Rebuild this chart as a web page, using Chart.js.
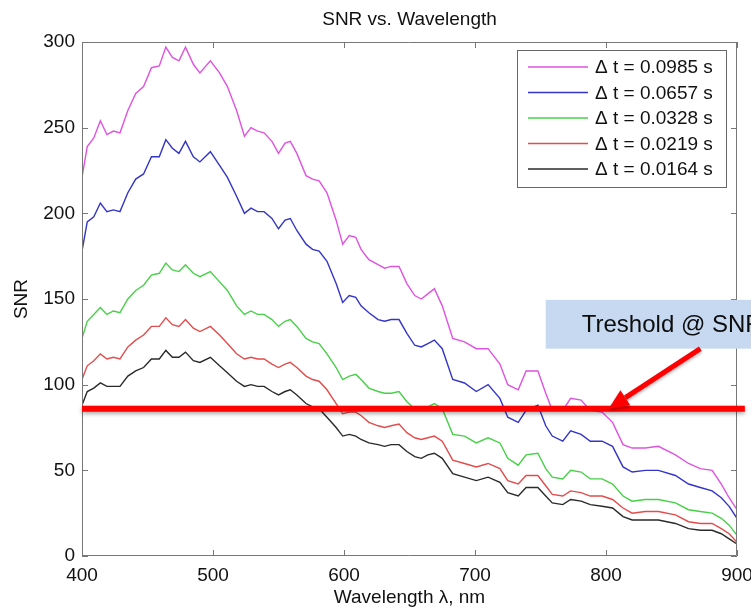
<!DOCTYPE html>
<html>
<head>
<meta charset="utf-8">
<script src="https://cdn.jsdelivr.net/npm/chart.js@4.4.1/dist/chart.umd.min.js"></script>
<style>
  html, body { margin: 0; padding: 0; background: #fff; overflow: hidden; }
  #wrap { width: 810px; height: 611px; position: relative; }
</style>
</head>
<body>
<div id="wrap"><canvas id="snr" width="810" height="611"></canvas></div>
<script>
// wavelength grid, nm
const wavelengths = [400,404,409,414,419,424,429,435,441,447,
  453,459,464,469,474,479,485,490,498,505,
  511,518,524,529,534,539,545,550,555,559,
  564,571,576,581,587,594,599,604,609,613,
  619,626,631,636,642,648,654,659,664,669,
  675,683,692,701,710,719,725,733,739,748,
  754,759,767,773,781,788,797,805,813,820,
  830,840,853,863,872,881,888,894,900];

// SNR for each exposure time
const snr0985 = [221,239,244,254,246,248,247,260,270,274,
  285,286,297,291,289,297,287,282,289,282,
  274,260,245,250,248,247,242,235,241,242,
  235,222,220,219,212,196,182,187,186,179,
  173,170,168,169,169,159,152,150,153,156,
  146,127,125,121,121,112,100,97,108,108,
  95,85,85,92,91,85,84,78,65,63,
  63,64,59,54,51,50,42,34,27];
const snr0657 = [178,195,198,206,201,202,201,212,220,223,
  233,233,243,238,235,242,233,230,236,228,
  221,210,200,203,201,201,197,191,196,197,
  190,182,179,178,172,159,148,152,151,146,
  142,138,137,138,138,130,123,122,124,126,
  121,103,101,96,100,92,81,78,85,88,
  76,70,67,73,71,67,67,64,52,49,
  50,50,47,42,40,38,34,29,22];
const snr0328 = [127,137,141,145,141,143,142,150,155,158,
  164,165,171,167,166,170,165,163,166,160,
  155,146,141,143,141,141,138,134,137,138,
  134,127,125,124,118,110,103,105,106,103,
  98,96,95,95,96,90,86,85,87,89,
  86,71,70,66,69,66,57,53,59,60,
  51,46,45,50,49,45,45,42,35,32,
  33,33,31,27,26,25,22,18,12];
const snr0219 = [103,111,114,118,115,116,115,122,126,129,
  134,134,139,135,134,138,133,131,134,129,
  124,118,115,116,115,115,112,110,112,113,
  110,105,103,102,97,89,83,84,84,82,
  78,76,75,76,77,72,69,68,69,70,
  67,56,54,52,54,51,44,42,47,47,
  41,36,35,38,37,35,35,33,28,25,
  26,26,24,20,19,19,16,13,8];
const snr0164 = [88,96,98,101,99,99,99,105,108,110,
  115,115,120,116,116,119,114,113,116,111,
  107,102,99,100,99,99,96,94,96,97,
  94,89,87,86,81,75,70,71,70,68,
  66,65,64,65,65,61,58,57,59,60,
  57,48,46,44,46,43,37,35,40,40,
  35,31,30,33,32,30,29,28,23,21,
  21,21,19,16,15,15,13,10,7];

const seriesLabels = ['\u0394 t = 0.0985 s', '\u0394 t = 0.0657 s', '\u0394 t = 0.0328 s', '\u0394 t = 0.0219 s', '\u0394 t = 0.0164 s'];
const seriesColors = ['#e052e0', '#3434c8', '#48d048', '#e24c4c', '#2a2a2a'];
const seriesValues = [snr0985, snr0657, snr0328, snr0219, snr0164];

const xTicks = [400, 500, 600, 700, 800, 900];
const yTicks = [0, 50, 100, 150, 200, 250, 300];

const THRESHOLD = 86;
const thresholdText = 'Treshold @ SNR = 85';

const FONT = "'Liberation Sans', Arial, sans-serif";
const AXIS = '#777';

const overlay = {
  id: 'overlay',
  afterDraw(chart) {
    const { ctx, chartArea: a, scales: { x, y } } = chart;
    ctx.save();

    // axes box + inward ticks
    ctx.strokeStyle = AXIS;
    ctx.lineWidth = 1;
    ctx.beginPath();
    ctx.rect(a.left + 0.5, a.top + 0.5, a.right - a.left - 1, a.bottom - a.top - 1);
    xTicks.forEach(v => {
      const px = Math.round(x.getPixelForValue(v)) + 0.5;
      ctx.moveTo(px, a.bottom); ctx.lineTo(px, a.bottom - 6);
      ctx.moveTo(px, a.top); ctx.lineTo(px, a.top + 6);
    });
    yTicks.forEach(v => {
      const py = Math.round(y.getPixelForValue(v)) + 0.5;
      ctx.moveTo(a.left, py); ctx.lineTo(a.left + 6, py);
      ctx.moveTo(a.right, py); ctx.lineTo(a.right - 6, py);
    });
    ctx.stroke();

    // legend
    const lw = 209, lh = 137;
    const lx = a.right - 11 - lw, ly = a.top + 8;
    ctx.fillStyle = '#fff';
    ctx.fillRect(lx, ly, lw, lh);
    ctx.strokeStyle = '#666';
    ctx.strokeRect(lx + 0.5, ly + 0.5, lw, lh);
    ctx.font = '19px ' + FONT;
    ctx.textBaseline = 'middle';
    ctx.textAlign = 'left';
    chart.data.datasets.forEach((ds, i) => {
      const ry = ly + 17 + i * 25.5;
      ctx.strokeStyle = ds.borderColor;
      ctx.lineWidth = 1.5;
      ctx.beginPath();
      ctx.moveTo(lx + 11, ry); ctx.lineTo(lx + 71, ry);
      ctx.stroke();
      ctx.fillStyle = '#111';
      ctx.fillText(ds.label, lx + 78, ry + 1);
    });

    // threshold line
    const ty = y.getPixelForValue(THRESHOLD);
    ctx.save();
    ctx.shadowColor = 'rgba(0,0,0,0.35)';
    ctx.shadowBlur = 4;
    ctx.shadowOffsetY = 2;
    ctx.strokeStyle = '#ff0000';
    ctx.lineWidth = 6;
    ctx.beginPath();
    ctx.moveTo(x.getPixelForValue(400), ty);
    ctx.lineTo(x.getPixelForValue(906), ty);
    ctx.stroke();
    ctx.restore();

    // annotation box
    const bx = x.getPixelForValue(754);
    const bTop = y.getPixelForValue(149.5), bBot = y.getPixelForValue(121);
    ctx.fillStyle = '#c6d9f1';
    ctx.fillRect(bx, bTop, 400, bBot - bTop);
    ctx.fillStyle = '#0d0d0d';
    ctx.font = '24px ' + FONT;
    ctx.textBaseline = 'middle';
    ctx.fillText(thresholdText, bx + 36, (bTop + bBot) / 2 + 1);

    // arrow
    const x0 = x.getPixelForValue(872), y0 = y.getPixelForValue(121);
    const x1 = x.getPixelForValue(802), y1 = ty;
    const ang = Math.atan2(y1 - y0, x1 - x0);
    const hl = 20, hw = 9;
    const bxh = x1 - hl * Math.cos(ang), byh = y1 - hl * Math.sin(ang);
    ctx.save();
    ctx.shadowColor = 'rgba(0,0,0,0.3)';
    ctx.shadowBlur = 3;
    ctx.shadowOffsetY = 2;
    ctx.strokeStyle = '#ff0000';
    ctx.fillStyle = '#ff0000';
    ctx.lineWidth = 5;
    ctx.beginPath();
    ctx.moveTo(x0, y0); ctx.lineTo(bxh, byh);
    ctx.stroke();
    ctx.beginPath();
    ctx.moveTo(x1, y1);
    ctx.lineTo(bxh + hw * Math.sin(ang), byh - hw * Math.cos(ang));
    ctx.lineTo(bxh - hw * Math.sin(ang), byh + hw * Math.cos(ang));
    ctx.closePath();
    ctx.fill();
    ctx.restore();

    ctx.restore();
  }
};

new Chart(document.getElementById('snr'), {
  type: 'line',
  data: {
    datasets: seriesValues.map((vals, i) => ({
      label: seriesLabels[i],
      data: wavelengths.map((w, j) => ({ x: w, y: vals[j] })),
      borderColor: seriesColors[i],
      backgroundColor: 'transparent',
      borderWidth: 1.4,
      pointRadius: 0,
      tension: 0,
      fill: false
    }))
  },
  options: {
    responsive: false,
    animation: false,
    devicePixelRatio: 1,
    layout: { padding: { left: 0, right: 73, top: 0, bottom: 0 } },
    plugins: {
      legend: { display: false },
      tooltip: { enabled: false },
      title: {
        display: true,
        fullSize: false,
        text: 'SNR vs. Wavelength',
        color: '#111',
        font: { family: FONT, size: 19, weight: 'normal' },
        padding: { top: 8, bottom: 11.2 }
      }
    },
    scales: {
      x: {
        type: 'linear',
        min: 400, max: 900,
        afterBuildTicks: s => { s.ticks = xTicks.map(v => ({ value: v })); },
        afterFit: s => { s.height = 55; },
        grid: { display: false, drawTicks: false },
        border: { display: false },
        ticks: { color: '#111', font: { family: FONT, size: 19 }, padding: 8, maxRotation: 0 },
        title: { display: true, text: 'Wavelength \u03bb, nm', color: '#111',
                 font: { family: FONT, size: 19 }, padding: { top: 0, bottom: 2 } }
      },
      y: {
        min: 0, max: 300,
        afterBuildTicks: s => { s.ticks = yTicks.map(v => ({ value: v })); },
        afterFit: s => { s.width = 82; },
        grid: { display: false, drawTicks: false },
        border: { display: false },
        ticks: { color: '#111', font: { family: FONT, size: 19 }, padding: 7 },
        title: { display: true, text: 'SNR', color: '#111',
                 font: { family: FONT, size: 19 }, padding: { top: 10, bottom: 0 } }
      }
    }
  },
  plugins: [overlay]
});
</script>
</body>
</html>
